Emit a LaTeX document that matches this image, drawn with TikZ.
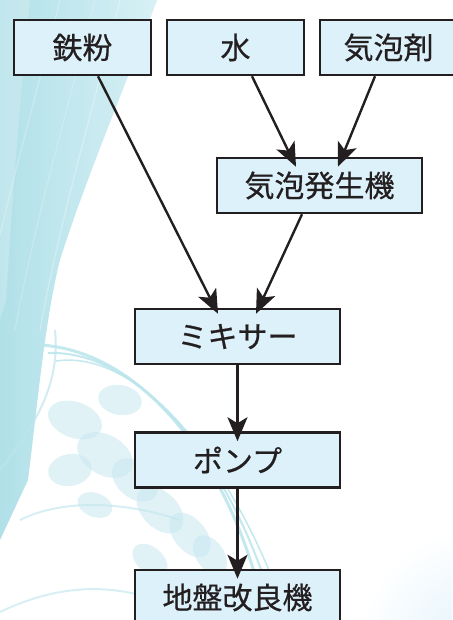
\documentclass[tikz,border=0pt]{standalone}
\usepackage{fontspec}
\newfontfamily\jpfont[FakeBold=0.6]{Noto Sans CJK JP}
\usetikzlibrary{arrows.meta,calc}

\definecolor{ink}{HTML}{231F20}
\definecolor{boxfill}{HTML}{DDF1FA}
\definecolor{bandA}{HTML}{A9DDE6}
\definecolor{bandB}{HTML}{D3EFF4}
\definecolor{strand}{HTML}{BDE5EC}
\definecolor{bubble}{HTML}{C4E6EF}

\tikzset{
  flowbox/.style={draw=ink, line width=2.5pt, fill=boxfill, minimum height=55pt,
    inner sep=0pt, text=ink, font=\jpfont\fontsize{30}{32}\selectfont},
  narrowbox/.style={flowbox, minimum width=137pt},
  widebox/.style={flowbox, minimum width=205pt},
  flow/.style={draw=ink, line width=2.4pt,
    -{Stealth[length=24pt, width=20pt, inset=6pt]}},
}

\begin{document}
\begin{tikzpicture}[x=1pt, y=-1pt]
  \useasboundingbox (0,0) rectangle (452,620);
  \begin{scope}
    \clip (0,0) rectangle (452,620);
    % pale glow in the lower right corner
    \shade[inner color=boxfill!80, outer color=white] (470,640) circle (110);
    % diagonal ribbon down the left side
    \shade[left color=bandA, right color=bandB, opacity=0.9]
      (0,0) -- (157,0) .. controls (132,70) and (85,180) .. (60,260)
      .. controls (45,320) and (38,400) .. (28,480) -- (0,540) -- cycle;
    \fill[white, opacity=0.2]
      (0,0) -- (30,0) .. controls (20,100) and (12,200) .. (6,300) -- (0,320) -- cycle;
    \foreach \dx/\op in {60/0.25, 95/0.2, 120/0.3}{
      \draw[white, line width=1.2pt, opacity=\op]
        (\dx,0) .. controls (\dx-30,120) and (\dx-60,220) .. (\dx-80,330);
    }
    % sweeping strands
    \foreach \s/\w in {0/3pt, 8/2pt, 16/1.5pt}{
      \draw[strand, line width=\w, opacity=0.9]
        (40+\s,345+\s) .. controls (130,350) and (215,440) .. (255+\s,575);
    }
    \draw[strand, line width=2pt, opacity=0.7]
      (0,470) .. controls (40,420) and (60,380) .. (55,330);
    \draw[strand, line width=2pt, opacity=0.6]
      (20,520) .. controls (60,500) and (120,500) .. (180,520);
    % bubbles
    \foreach \x/\y/\a/\b/\r in {
      75/420/28/18/-20, 105/455/30/20/-30, 70/470/22/16/10,
      135/480/26/18/-40, 160/510/28/18/-45, 190/535/26/16/-50,
      120/400/22/15/-10, 175/455/20/14/-30, 210/555/22/14/-55,
      150/560/20/13/-40, 95/505/18/12/-20}{
      \fill[bubble, opacity=0.5, rotate around={\r:(\x,\y)}]
        (\x,\y) ellipse ({\a} and {\b});
    }
    \draw[strand, line width=2pt, opacity=0.6]
      (0,612) .. controls (50,588) and (100,582) .. (150,598);
  \end{scope}

  % process boxes
  \node[narrowbox] (iron)   at (82.5,47.5)  {鉄粉};
  \node[narrowbox] (water)  at (235.5,47.5) {水};
  \node[narrowbox] (agent)  at (388.5,47.5) {気泡剤};
  \node[widebox]   (foam)   at (319.5,185.5) {気泡発生機};
  \node[widebox]   (mixer)  at (237.5,336.5) {ミキサー};
  \node[widebox]   (pump)   at (237.5,460)   {ポンプ};
  \node[widebox]   (ground) at (237.5,597.5) {地盤改良機};

  % connectors
  \draw[flow] ([xshift=15.5pt]iron.south)  -- ([xshift=-19.5pt,yshift=-6pt]mixer.north);
  \draw[flow] ([xshift=16.5pt]water.south) -- ([xshift=-23.5pt,yshift=-10pt]foam.north);
  \draw[flow] ([xshift=-13.5pt]agent.south) -- ([xshift=18.5pt,yshift=-10pt]foam.north);
  \draw[flow] ([xshift=-17.5pt]foam.south) -- ([xshift=18.5pt,yshift=-6pt]mixer.north);
  \draw[flow] (mixer.south) -- ([yshift=-10pt]pump.north);
  \draw[flow] (pump.south) -- ([yshift=-10pt]ground.north);
\end{tikzpicture}
\end{document}
